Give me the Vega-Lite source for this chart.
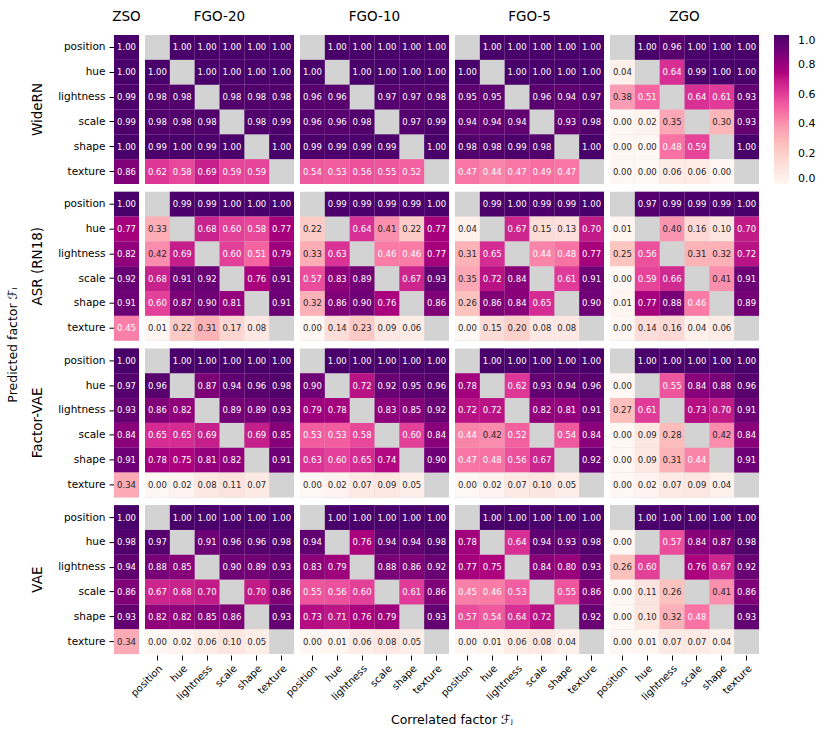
{
"$schema": "https://vega.github.io/schema/vega-lite/v6.json",
"padding": {"left": 6, "top": 9, "right": 5, "bottom": 5},
"data": {"values": [
{"m":"WideRN","g":"ZSO","r":"position","c":"ZSO","v":1.00},
{"m":"WideRN","g":"ZSO","r":"hue","c":"ZSO","v":1.00},
{"m":"WideRN","g":"ZSO","r":"lightness","c":"ZSO","v":0.99},
{"m":"WideRN","g":"ZSO","r":"scale","c":"ZSO","v":0.99},
{"m":"WideRN","g":"ZSO","r":"shape","c":"ZSO","v":1.00},
{"m":"WideRN","g":"ZSO","r":"texture","c":"ZSO","v":0.86},
{"m":"ASR (RN18)","g":"ZSO","r":"position","c":"ZSO","v":1.00},
{"m":"ASR (RN18)","g":"ZSO","r":"hue","c":"ZSO","v":0.77},
{"m":"ASR (RN18)","g":"ZSO","r":"lightness","c":"ZSO","v":0.82},
{"m":"ASR (RN18)","g":"ZSO","r":"scale","c":"ZSO","v":0.92},
{"m":"ASR (RN18)","g":"ZSO","r":"shape","c":"ZSO","v":0.91},
{"m":"ASR (RN18)","g":"ZSO","r":"texture","c":"ZSO","v":0.45},
{"m":"Factor-VAE","g":"ZSO","r":"position","c":"ZSO","v":1.00},
{"m":"Factor-VAE","g":"ZSO","r":"hue","c":"ZSO","v":0.97},
{"m":"Factor-VAE","g":"ZSO","r":"lightness","c":"ZSO","v":0.93},
{"m":"Factor-VAE","g":"ZSO","r":"scale","c":"ZSO","v":0.84},
{"m":"Factor-VAE","g":"ZSO","r":"shape","c":"ZSO","v":0.91},
{"m":"Factor-VAE","g":"ZSO","r":"texture","c":"ZSO","v":0.34},
{"m":"VAE","g":"ZSO","r":"position","c":"ZSO","v":1.00},
{"m":"VAE","g":"ZSO","r":"hue","c":"ZSO","v":0.98},
{"m":"VAE","g":"ZSO","r":"lightness","c":"ZSO","v":0.94},
{"m":"VAE","g":"ZSO","r":"scale","c":"ZSO","v":0.86},
{"m":"VAE","g":"ZSO","r":"shape","c":"ZSO","v":0.93},
{"m":"VAE","g":"ZSO","r":"texture","c":"ZSO","v":0.34},

{"m":"WideRN","g":"FGO-20","r":"position","c":"hue","v":1.00},
{"m":"WideRN","g":"FGO-20","r":"position","c":"lightness","v":1.00},
{"m":"WideRN","g":"FGO-20","r":"position","c":"scale","v":1.00},
{"m":"WideRN","g":"FGO-20","r":"position","c":"shape","v":1.00},
{"m":"WideRN","g":"FGO-20","r":"position","c":"texture","v":1.00},
{"m":"WideRN","g":"FGO-20","r":"hue","c":"position","v":1.00},
{"m":"WideRN","g":"FGO-20","r":"hue","c":"lightness","v":1.00},
{"m":"WideRN","g":"FGO-20","r":"hue","c":"scale","v":1.00},
{"m":"WideRN","g":"FGO-20","r":"hue","c":"shape","v":1.00},
{"m":"WideRN","g":"FGO-20","r":"hue","c":"texture","v":1.00},
{"m":"WideRN","g":"FGO-20","r":"lightness","c":"position","v":0.98},
{"m":"WideRN","g":"FGO-20","r":"lightness","c":"hue","v":0.98},
{"m":"WideRN","g":"FGO-20","r":"lightness","c":"scale","v":0.98},
{"m":"WideRN","g":"FGO-20","r":"lightness","c":"shape","v":0.98},
{"m":"WideRN","g":"FGO-20","r":"lightness","c":"texture","v":0.98},
{"m":"WideRN","g":"FGO-20","r":"scale","c":"position","v":0.98},
{"m":"WideRN","g":"FGO-20","r":"scale","c":"hue","v":0.98},
{"m":"WideRN","g":"FGO-20","r":"scale","c":"lightness","v":0.98},
{"m":"WideRN","g":"FGO-20","r":"scale","c":"shape","v":0.98},
{"m":"WideRN","g":"FGO-20","r":"scale","c":"texture","v":0.99},
{"m":"WideRN","g":"FGO-20","r":"shape","c":"position","v":0.99},
{"m":"WideRN","g":"FGO-20","r":"shape","c":"hue","v":1.00},
{"m":"WideRN","g":"FGO-20","r":"shape","c":"lightness","v":0.99},
{"m":"WideRN","g":"FGO-20","r":"shape","c":"scale","v":1.00},
{"m":"WideRN","g":"FGO-20","r":"shape","c":"texture","v":1.00},
{"m":"WideRN","g":"FGO-20","r":"texture","c":"position","v":0.62},
{"m":"WideRN","g":"FGO-20","r":"texture","c":"hue","v":0.58},
{"m":"WideRN","g":"FGO-20","r":"texture","c":"lightness","v":0.69},
{"m":"WideRN","g":"FGO-20","r":"texture","c":"scale","v":0.59},
{"m":"WideRN","g":"FGO-20","r":"texture","c":"shape","v":0.59},

{"m":"WideRN","g":"FGO-10","r":"position","c":"hue","v":1.00},
{"m":"WideRN","g":"FGO-10","r":"position","c":"lightness","v":1.00},
{"m":"WideRN","g":"FGO-10","r":"position","c":"scale","v":1.00},
{"m":"WideRN","g":"FGO-10","r":"position","c":"shape","v":1.00},
{"m":"WideRN","g":"FGO-10","r":"position","c":"texture","v":1.00},
{"m":"WideRN","g":"FGO-10","r":"hue","c":"position","v":1.00},
{"m":"WideRN","g":"FGO-10","r":"hue","c":"lightness","v":1.00},
{"m":"WideRN","g":"FGO-10","r":"hue","c":"scale","v":1.00},
{"m":"WideRN","g":"FGO-10","r":"hue","c":"shape","v":1.00},
{"m":"WideRN","g":"FGO-10","r":"hue","c":"texture","v":1.00},
{"m":"WideRN","g":"FGO-10","r":"lightness","c":"position","v":0.96},
{"m":"WideRN","g":"FGO-10","r":"lightness","c":"hue","v":0.96},
{"m":"WideRN","g":"FGO-10","r":"lightness","c":"scale","v":0.97},
{"m":"WideRN","g":"FGO-10","r":"lightness","c":"shape","v":0.97},
{"m":"WideRN","g":"FGO-10","r":"lightness","c":"texture","v":0.98},
{"m":"WideRN","g":"FGO-10","r":"scale","c":"position","v":0.96},
{"m":"WideRN","g":"FGO-10","r":"scale","c":"hue","v":0.96},
{"m":"WideRN","g":"FGO-10","r":"scale","c":"lightness","v":0.98},
{"m":"WideRN","g":"FGO-10","r":"scale","c":"shape","v":0.97},
{"m":"WideRN","g":"FGO-10","r":"scale","c":"texture","v":0.99},
{"m":"WideRN","g":"FGO-10","r":"shape","c":"position","v":0.99},
{"m":"WideRN","g":"FGO-10","r":"shape","c":"hue","v":0.99},
{"m":"WideRN","g":"FGO-10","r":"shape","c":"lightness","v":0.99},
{"m":"WideRN","g":"FGO-10","r":"shape","c":"scale","v":0.99},
{"m":"WideRN","g":"FGO-10","r":"shape","c":"texture","v":1.00},
{"m":"WideRN","g":"FGO-10","r":"texture","c":"position","v":0.54},
{"m":"WideRN","g":"FGO-10","r":"texture","c":"hue","v":0.53},
{"m":"WideRN","g":"FGO-10","r":"texture","c":"lightness","v":0.56},
{"m":"WideRN","g":"FGO-10","r":"texture","c":"scale","v":0.55},
{"m":"WideRN","g":"FGO-10","r":"texture","c":"shape","v":0.52},

{"m":"WideRN","g":"FGO-5","r":"position","c":"hue","v":1.00},
{"m":"WideRN","g":"FGO-5","r":"position","c":"lightness","v":1.00},
{"m":"WideRN","g":"FGO-5","r":"position","c":"scale","v":1.00},
{"m":"WideRN","g":"FGO-5","r":"position","c":"shape","v":1.00},
{"m":"WideRN","g":"FGO-5","r":"position","c":"texture","v":1.00},
{"m":"WideRN","g":"FGO-5","r":"hue","c":"position","v":1.00},
{"m":"WideRN","g":"FGO-5","r":"hue","c":"lightness","v":1.00},
{"m":"WideRN","g":"FGO-5","r":"hue","c":"scale","v":1.00},
{"m":"WideRN","g":"FGO-5","r":"hue","c":"shape","v":1.00},
{"m":"WideRN","g":"FGO-5","r":"hue","c":"texture","v":1.00},
{"m":"WideRN","g":"FGO-5","r":"lightness","c":"position","v":0.95},
{"m":"WideRN","g":"FGO-5","r":"lightness","c":"hue","v":0.95},
{"m":"WideRN","g":"FGO-5","r":"lightness","c":"scale","v":0.96},
{"m":"WideRN","g":"FGO-5","r":"lightness","c":"shape","v":0.94},
{"m":"WideRN","g":"FGO-5","r":"lightness","c":"texture","v":0.97},
{"m":"WideRN","g":"FGO-5","r":"scale","c":"position","v":0.94},
{"m":"WideRN","g":"FGO-5","r":"scale","c":"hue","v":0.94},
{"m":"WideRN","g":"FGO-5","r":"scale","c":"lightness","v":0.94},
{"m":"WideRN","g":"FGO-5","r":"scale","c":"shape","v":0.93},
{"m":"WideRN","g":"FGO-5","r":"scale","c":"texture","v":0.98},
{"m":"WideRN","g":"FGO-5","r":"shape","c":"position","v":0.98},
{"m":"WideRN","g":"FGO-5","r":"shape","c":"hue","v":0.98},
{"m":"WideRN","g":"FGO-5","r":"shape","c":"lightness","v":0.99},
{"m":"WideRN","g":"FGO-5","r":"shape","c":"scale","v":0.98},
{"m":"WideRN","g":"FGO-5","r":"shape","c":"texture","v":1.00},
{"m":"WideRN","g":"FGO-5","r":"texture","c":"position","v":0.47},
{"m":"WideRN","g":"FGO-5","r":"texture","c":"hue","v":0.44},
{"m":"WideRN","g":"FGO-5","r":"texture","c":"lightness","v":0.47},
{"m":"WideRN","g":"FGO-5","r":"texture","c":"scale","v":0.49},
{"m":"WideRN","g":"FGO-5","r":"texture","c":"shape","v":0.47},

{"m":"WideRN","g":"ZGO","r":"position","c":"hue","v":1.00},
{"m":"WideRN","g":"ZGO","r":"position","c":"lightness","v":0.96},
{"m":"WideRN","g":"ZGO","r":"position","c":"scale","v":1.00},
{"m":"WideRN","g":"ZGO","r":"position","c":"shape","v":1.00},
{"m":"WideRN","g":"ZGO","r":"position","c":"texture","v":1.00},
{"m":"WideRN","g":"ZGO","r":"hue","c":"position","v":0.04},
{"m":"WideRN","g":"ZGO","r":"hue","c":"lightness","v":0.64},
{"m":"WideRN","g":"ZGO","r":"hue","c":"scale","v":0.99},
{"m":"WideRN","g":"ZGO","r":"hue","c":"shape","v":1.00},
{"m":"WideRN","g":"ZGO","r":"hue","c":"texture","v":1.00},
{"m":"WideRN","g":"ZGO","r":"lightness","c":"position","v":0.38},
{"m":"WideRN","g":"ZGO","r":"lightness","c":"hue","v":0.51},
{"m":"WideRN","g":"ZGO","r":"lightness","c":"scale","v":0.64},
{"m":"WideRN","g":"ZGO","r":"lightness","c":"shape","v":0.61},
{"m":"WideRN","g":"ZGO","r":"lightness","c":"texture","v":0.93},
{"m":"WideRN","g":"ZGO","r":"scale","c":"position","v":0.00},
{"m":"WideRN","g":"ZGO","r":"scale","c":"hue","v":0.02},
{"m":"WideRN","g":"ZGO","r":"scale","c":"lightness","v":0.35},
{"m":"WideRN","g":"ZGO","r":"scale","c":"shape","v":0.30},
{"m":"WideRN","g":"ZGO","r":"scale","c":"texture","v":0.93},
{"m":"WideRN","g":"ZGO","r":"shape","c":"position","v":0.00},
{"m":"WideRN","g":"ZGO","r":"shape","c":"hue","v":0.00},
{"m":"WideRN","g":"ZGO","r":"shape","c":"lightness","v":0.48},
{"m":"WideRN","g":"ZGO","r":"shape","c":"scale","v":0.59},
{"m":"WideRN","g":"ZGO","r":"shape","c":"texture","v":1.00},
{"m":"WideRN","g":"ZGO","r":"texture","c":"position","v":0.00},
{"m":"WideRN","g":"ZGO","r":"texture","c":"hue","v":0.00},
{"m":"WideRN","g":"ZGO","r":"texture","c":"lightness","v":0.06},
{"m":"WideRN","g":"ZGO","r":"texture","c":"scale","v":0.06},
{"m":"WideRN","g":"ZGO","r":"texture","c":"shape","v":0.00},

{"m":"ASR (RN18)","g":"FGO-20","r":"position","c":"hue","v":0.99},
{"m":"ASR (RN18)","g":"FGO-20","r":"position","c":"lightness","v":0.99},
{"m":"ASR (RN18)","g":"FGO-20","r":"position","c":"scale","v":1.00},
{"m":"ASR (RN18)","g":"FGO-20","r":"position","c":"shape","v":1.00},
{"m":"ASR (RN18)","g":"FGO-20","r":"position","c":"texture","v":1.00},
{"m":"ASR (RN18)","g":"FGO-20","r":"hue","c":"position","v":0.33},
{"m":"ASR (RN18)","g":"FGO-20","r":"hue","c":"lightness","v":0.68},
{"m":"ASR (RN18)","g":"FGO-20","r":"hue","c":"scale","v":0.60},
{"m":"ASR (RN18)","g":"FGO-20","r":"hue","c":"shape","v":0.58},
{"m":"ASR (RN18)","g":"FGO-20","r":"hue","c":"texture","v":0.77},
{"m":"ASR (RN18)","g":"FGO-20","r":"lightness","c":"position","v":0.42},
{"m":"ASR (RN18)","g":"FGO-20","r":"lightness","c":"hue","v":0.69},
{"m":"ASR (RN18)","g":"FGO-20","r":"lightness","c":"scale","v":0.60},
{"m":"ASR (RN18)","g":"FGO-20","r":"lightness","c":"shape","v":0.51},
{"m":"ASR (RN18)","g":"FGO-20","r":"lightness","c":"texture","v":0.79},
{"m":"ASR (RN18)","g":"FGO-20","r":"scale","c":"position","v":0.68},
{"m":"ASR (RN18)","g":"FGO-20","r":"scale","c":"hue","v":0.91},
{"m":"ASR (RN18)","g":"FGO-20","r":"scale","c":"lightness","v":0.92},
{"m":"ASR (RN18)","g":"FGO-20","r":"scale","c":"shape","v":0.76},
{"m":"ASR (RN18)","g":"FGO-20","r":"scale","c":"texture","v":0.91},
{"m":"ASR (RN18)","g":"FGO-20","r":"shape","c":"position","v":0.60},
{"m":"ASR (RN18)","g":"FGO-20","r":"shape","c":"hue","v":0.87},
{"m":"ASR (RN18)","g":"FGO-20","r":"shape","c":"lightness","v":0.90},
{"m":"ASR (RN18)","g":"FGO-20","r":"shape","c":"scale","v":0.81},
{"m":"ASR (RN18)","g":"FGO-20","r":"shape","c":"texture","v":0.91},
{"m":"ASR (RN18)","g":"FGO-20","r":"texture","c":"position","v":0.01},
{"m":"ASR (RN18)","g":"FGO-20","r":"texture","c":"hue","v":0.22},
{"m":"ASR (RN18)","g":"FGO-20","r":"texture","c":"lightness","v":0.31},
{"m":"ASR (RN18)","g":"FGO-20","r":"texture","c":"scale","v":0.17},
{"m":"ASR (RN18)","g":"FGO-20","r":"texture","c":"shape","v":0.08},

{"m":"ASR (RN18)","g":"FGO-10","r":"position","c":"hue","v":0.99},
{"m":"ASR (RN18)","g":"FGO-10","r":"position","c":"lightness","v":0.99},
{"m":"ASR (RN18)","g":"FGO-10","r":"position","c":"scale","v":0.99},
{"m":"ASR (RN18)","g":"FGO-10","r":"position","c":"shape","v":0.99},
{"m":"ASR (RN18)","g":"FGO-10","r":"position","c":"texture","v":1.00},
{"m":"ASR (RN18)","g":"FGO-10","r":"hue","c":"position","v":0.22},
{"m":"ASR (RN18)","g":"FGO-10","r":"hue","c":"lightness","v":0.64},
{"m":"ASR (RN18)","g":"FGO-10","r":"hue","c":"scale","v":0.41},
{"m":"ASR (RN18)","g":"FGO-10","r":"hue","c":"shape","v":0.22},
{"m":"ASR (RN18)","g":"FGO-10","r":"hue","c":"texture","v":0.77},
{"m":"ASR (RN18)","g":"FGO-10","r":"lightness","c":"position","v":0.33},
{"m":"ASR (RN18)","g":"FGO-10","r":"lightness","c":"hue","v":0.63},
{"m":"ASR (RN18)","g":"FGO-10","r":"lightness","c":"scale","v":0.46},
{"m":"ASR (RN18)","g":"FGO-10","r":"lightness","c":"shape","v":0.46},
{"m":"ASR (RN18)","g":"FGO-10","r":"lightness","c":"texture","v":0.77},
{"m":"ASR (RN18)","g":"FGO-10","r":"scale","c":"position","v":0.57},
{"m":"ASR (RN18)","g":"FGO-10","r":"scale","c":"hue","v":0.83},
{"m":"ASR (RN18)","g":"FGO-10","r":"scale","c":"lightness","v":0.89},
{"m":"ASR (RN18)","g":"FGO-10","r":"scale","c":"shape","v":0.67},
{"m":"ASR (RN18)","g":"FGO-10","r":"scale","c":"texture","v":0.93},
{"m":"ASR (RN18)","g":"FGO-10","r":"shape","c":"position","v":0.32},
{"m":"ASR (RN18)","g":"FGO-10","r":"shape","c":"hue","v":0.86},
{"m":"ASR (RN18)","g":"FGO-10","r":"shape","c":"lightness","v":0.90},
{"m":"ASR (RN18)","g":"FGO-10","r":"shape","c":"scale","v":0.76},
{"m":"ASR (RN18)","g":"FGO-10","r":"shape","c":"texture","v":0.86},
{"m":"ASR (RN18)","g":"FGO-10","r":"texture","c":"position","v":0.00},
{"m":"ASR (RN18)","g":"FGO-10","r":"texture","c":"hue","v":0.14},
{"m":"ASR (RN18)","g":"FGO-10","r":"texture","c":"lightness","v":0.23},
{"m":"ASR (RN18)","g":"FGO-10","r":"texture","c":"scale","v":0.09},
{"m":"ASR (RN18)","g":"FGO-10","r":"texture","c":"shape","v":0.06},

{"m":"ASR (RN18)","g":"FGO-5","r":"position","c":"hue","v":0.99},
{"m":"ASR (RN18)","g":"FGO-5","r":"position","c":"lightness","v":1.00},
{"m":"ASR (RN18)","g":"FGO-5","r":"position","c":"scale","v":0.99},
{"m":"ASR (RN18)","g":"FGO-5","r":"position","c":"shape","v":0.99},
{"m":"ASR (RN18)","g":"FGO-5","r":"position","c":"texture","v":1.00},
{"m":"ASR (RN18)","g":"FGO-5","r":"hue","c":"position","v":0.04},
{"m":"ASR (RN18)","g":"FGO-5","r":"hue","c":"lightness","v":0.67},
{"m":"ASR (RN18)","g":"FGO-5","r":"hue","c":"scale","v":0.15},
{"m":"ASR (RN18)","g":"FGO-5","r":"hue","c":"shape","v":0.13},
{"m":"ASR (RN18)","g":"FGO-5","r":"hue","c":"texture","v":0.70},
{"m":"ASR (RN18)","g":"FGO-5","r":"lightness","c":"position","v":0.31},
{"m":"ASR (RN18)","g":"FGO-5","r":"lightness","c":"hue","v":0.65},
{"m":"ASR (RN18)","g":"FGO-5","r":"lightness","c":"scale","v":0.44},
{"m":"ASR (RN18)","g":"FGO-5","r":"lightness","c":"shape","v":0.48},
{"m":"ASR (RN18)","g":"FGO-5","r":"lightness","c":"texture","v":0.77},
{"m":"ASR (RN18)","g":"FGO-5","r":"scale","c":"position","v":0.35},
{"m":"ASR (RN18)","g":"FGO-5","r":"scale","c":"hue","v":0.72},
{"m":"ASR (RN18)","g":"FGO-5","r":"scale","c":"lightness","v":0.84},
{"m":"ASR (RN18)","g":"FGO-5","r":"scale","c":"shape","v":0.61},
{"m":"ASR (RN18)","g":"FGO-5","r":"scale","c":"texture","v":0.91},
{"m":"ASR (RN18)","g":"FGO-5","r":"shape","c":"position","v":0.26},
{"m":"ASR (RN18)","g":"FGO-5","r":"shape","c":"hue","v":0.86},
{"m":"ASR (RN18)","g":"FGO-5","r":"shape","c":"lightness","v":0.84},
{"m":"ASR (RN18)","g":"FGO-5","r":"shape","c":"scale","v":0.65},
{"m":"ASR (RN18)","g":"FGO-5","r":"shape","c":"texture","v":0.90},
{"m":"ASR (RN18)","g":"FGO-5","r":"texture","c":"position","v":0.00},
{"m":"ASR (RN18)","g":"FGO-5","r":"texture","c":"hue","v":0.15},
{"m":"ASR (RN18)","g":"FGO-5","r":"texture","c":"lightness","v":0.20},
{"m":"ASR (RN18)","g":"FGO-5","r":"texture","c":"scale","v":0.08},
{"m":"ASR (RN18)","g":"FGO-5","r":"texture","c":"shape","v":0.08},

{"m":"ASR (RN18)","g":"ZGO","r":"position","c":"hue","v":0.97},
{"m":"ASR (RN18)","g":"ZGO","r":"position","c":"lightness","v":0.99},
{"m":"ASR (RN18)","g":"ZGO","r":"position","c":"scale","v":0.99},
{"m":"ASR (RN18)","g":"ZGO","r":"position","c":"shape","v":0.99},
{"m":"ASR (RN18)","g":"ZGO","r":"position","c":"texture","v":1.00},
{"m":"ASR (RN18)","g":"ZGO","r":"hue","c":"position","v":0.01},
{"m":"ASR (RN18)","g":"ZGO","r":"hue","c":"lightness","v":0.40},
{"m":"ASR (RN18)","g":"ZGO","r":"hue","c":"scale","v":0.16},
{"m":"ASR (RN18)","g":"ZGO","r":"hue","c":"shape","v":0.10},
{"m":"ASR (RN18)","g":"ZGO","r":"hue","c":"texture","v":0.70},
{"m":"ASR (RN18)","g":"ZGO","r":"lightness","c":"position","v":0.25},
{"m":"ASR (RN18)","g":"ZGO","r":"lightness","c":"hue","v":0.56},
{"m":"ASR (RN18)","g":"ZGO","r":"lightness","c":"scale","v":0.31},
{"m":"ASR (RN18)","g":"ZGO","r":"lightness","c":"shape","v":0.32},
{"m":"ASR (RN18)","g":"ZGO","r":"lightness","c":"texture","v":0.72},
{"m":"ASR (RN18)","g":"ZGO","r":"scale","c":"position","v":0.00},
{"m":"ASR (RN18)","g":"ZGO","r":"scale","c":"hue","v":0.59},
{"m":"ASR (RN18)","g":"ZGO","r":"scale","c":"lightness","v":0.66},
{"m":"ASR (RN18)","g":"ZGO","r":"scale","c":"shape","v":0.41},
{"m":"ASR (RN18)","g":"ZGO","r":"scale","c":"texture","v":0.91},
{"m":"ASR (RN18)","g":"ZGO","r":"shape","c":"position","v":0.01},
{"m":"ASR (RN18)","g":"ZGO","r":"shape","c":"hue","v":0.77},
{"m":"ASR (RN18)","g":"ZGO","r":"shape","c":"lightness","v":0.88},
{"m":"ASR (RN18)","g":"ZGO","r":"shape","c":"scale","v":0.46},
{"m":"ASR (RN18)","g":"ZGO","r":"shape","c":"texture","v":0.89},
{"m":"ASR (RN18)","g":"ZGO","r":"texture","c":"position","v":0.00},
{"m":"ASR (RN18)","g":"ZGO","r":"texture","c":"hue","v":0.14},
{"m":"ASR (RN18)","g":"ZGO","r":"texture","c":"lightness","v":0.16},
{"m":"ASR (RN18)","g":"ZGO","r":"texture","c":"scale","v":0.04},
{"m":"ASR (RN18)","g":"ZGO","r":"texture","c":"shape","v":0.06},

{"m":"Factor-VAE","g":"FGO-20","r":"position","c":"hue","v":1.00},
{"m":"Factor-VAE","g":"FGO-20","r":"position","c":"lightness","v":1.00},
{"m":"Factor-VAE","g":"FGO-20","r":"position","c":"scale","v":1.00},
{"m":"Factor-VAE","g":"FGO-20","r":"position","c":"shape","v":1.00},
{"m":"Factor-VAE","g":"FGO-20","r":"position","c":"texture","v":1.00},
{"m":"Factor-VAE","g":"FGO-20","r":"hue","c":"position","v":0.96},
{"m":"Factor-VAE","g":"FGO-20","r":"hue","c":"lightness","v":0.87},
{"m":"Factor-VAE","g":"FGO-20","r":"hue","c":"scale","v":0.94},
{"m":"Factor-VAE","g":"FGO-20","r":"hue","c":"shape","v":0.96},
{"m":"Factor-VAE","g":"FGO-20","r":"hue","c":"texture","v":0.98},
{"m":"Factor-VAE","g":"FGO-20","r":"lightness","c":"position","v":0.86},
{"m":"Factor-VAE","g":"FGO-20","r":"lightness","c":"hue","v":0.82},
{"m":"Factor-VAE","g":"FGO-20","r":"lightness","c":"scale","v":0.89},
{"m":"Factor-VAE","g":"FGO-20","r":"lightness","c":"shape","v":0.89},
{"m":"Factor-VAE","g":"FGO-20","r":"lightness","c":"texture","v":0.93},
{"m":"Factor-VAE","g":"FGO-20","r":"scale","c":"position","v":0.65},
{"m":"Factor-VAE","g":"FGO-20","r":"scale","c":"hue","v":0.65},
{"m":"Factor-VAE","g":"FGO-20","r":"scale","c":"lightness","v":0.69},
{"m":"Factor-VAE","g":"FGO-20","r":"scale","c":"shape","v":0.69},
{"m":"Factor-VAE","g":"FGO-20","r":"scale","c":"texture","v":0.85},
{"m":"Factor-VAE","g":"FGO-20","r":"shape","c":"position","v":0.78},
{"m":"Factor-VAE","g":"FGO-20","r":"shape","c":"hue","v":0.75},
{"m":"Factor-VAE","g":"FGO-20","r":"shape","c":"lightness","v":0.81},
{"m":"Factor-VAE","g":"FGO-20","r":"shape","c":"scale","v":0.82},
{"m":"Factor-VAE","g":"FGO-20","r":"shape","c":"texture","v":0.91},
{"m":"Factor-VAE","g":"FGO-20","r":"texture","c":"position","v":0.00},
{"m":"Factor-VAE","g":"FGO-20","r":"texture","c":"hue","v":0.02},
{"m":"Factor-VAE","g":"FGO-20","r":"texture","c":"lightness","v":0.08},
{"m":"Factor-VAE","g":"FGO-20","r":"texture","c":"scale","v":0.11},
{"m":"Factor-VAE","g":"FGO-20","r":"texture","c":"shape","v":0.07},

{"m":"Factor-VAE","g":"FGO-10","r":"position","c":"hue","v":1.00},
{"m":"Factor-VAE","g":"FGO-10","r":"position","c":"lightness","v":1.00},
{"m":"Factor-VAE","g":"FGO-10","r":"position","c":"scale","v":1.00},
{"m":"Factor-VAE","g":"FGO-10","r":"position","c":"shape","v":1.00},
{"m":"Factor-VAE","g":"FGO-10","r":"position","c":"texture","v":1.00},
{"m":"Factor-VAE","g":"FGO-10","r":"hue","c":"position","v":0.90},
{"m":"Factor-VAE","g":"FGO-10","r":"hue","c":"lightness","v":0.72},
{"m":"Factor-VAE","g":"FGO-10","r":"hue","c":"scale","v":0.92},
{"m":"Factor-VAE","g":"FGO-10","r":"hue","c":"shape","v":0.95},
{"m":"Factor-VAE","g":"FGO-10","r":"hue","c":"texture","v":0.96},
{"m":"Factor-VAE","g":"FGO-10","r":"lightness","c":"position","v":0.79},
{"m":"Factor-VAE","g":"FGO-10","r":"lightness","c":"hue","v":0.78},
{"m":"Factor-VAE","g":"FGO-10","r":"lightness","c":"scale","v":0.83},
{"m":"Factor-VAE","g":"FGO-10","r":"lightness","c":"shape","v":0.85},
{"m":"Factor-VAE","g":"FGO-10","r":"lightness","c":"texture","v":0.92},
{"m":"Factor-VAE","g":"FGO-10","r":"scale","c":"position","v":0.53},
{"m":"Factor-VAE","g":"FGO-10","r":"scale","c":"hue","v":0.53},
{"m":"Factor-VAE","g":"FGO-10","r":"scale","c":"lightness","v":0.58},
{"m":"Factor-VAE","g":"FGO-10","r":"scale","c":"shape","v":0.60},
{"m":"Factor-VAE","g":"FGO-10","r":"scale","c":"texture","v":0.84},
{"m":"Factor-VAE","g":"FGO-10","r":"shape","c":"position","v":0.63},
{"m":"Factor-VAE","g":"FGO-10","r":"shape","c":"hue","v":0.60},
{"m":"Factor-VAE","g":"FGO-10","r":"shape","c":"lightness","v":0.65},
{"m":"Factor-VAE","g":"FGO-10","r":"shape","c":"scale","v":0.74},
{"m":"Factor-VAE","g":"FGO-10","r":"shape","c":"texture","v":0.90},
{"m":"Factor-VAE","g":"FGO-10","r":"texture","c":"position","v":0.00},
{"m":"Factor-VAE","g":"FGO-10","r":"texture","c":"hue","v":0.02},
{"m":"Factor-VAE","g":"FGO-10","r":"texture","c":"lightness","v":0.07},
{"m":"Factor-VAE","g":"FGO-10","r":"texture","c":"scale","v":0.09},
{"m":"Factor-VAE","g":"FGO-10","r":"texture","c":"shape","v":0.05},

{"m":"Factor-VAE","g":"FGO-5","r":"position","c":"hue","v":1.00},
{"m":"Factor-VAE","g":"FGO-5","r":"position","c":"lightness","v":1.00},
{"m":"Factor-VAE","g":"FGO-5","r":"position","c":"scale","v":1.00},
{"m":"Factor-VAE","g":"FGO-5","r":"position","c":"shape","v":1.00},
{"m":"Factor-VAE","g":"FGO-5","r":"position","c":"texture","v":1.00},
{"m":"Factor-VAE","g":"FGO-5","r":"hue","c":"position","v":0.78},
{"m":"Factor-VAE","g":"FGO-5","r":"hue","c":"lightness","v":0.62},
{"m":"Factor-VAE","g":"FGO-5","r":"hue","c":"scale","v":0.93},
{"m":"Factor-VAE","g":"FGO-5","r":"hue","c":"shape","v":0.94},
{"m":"Factor-VAE","g":"FGO-5","r":"hue","c":"texture","v":0.96},
{"m":"Factor-VAE","g":"FGO-5","r":"lightness","c":"position","v":0.72},
{"m":"Factor-VAE","g":"FGO-5","r":"lightness","c":"hue","v":0.72},
{"m":"Factor-VAE","g":"FGO-5","r":"lightness","c":"scale","v":0.82},
{"m":"Factor-VAE","g":"FGO-5","r":"lightness","c":"shape","v":0.81},
{"m":"Factor-VAE","g":"FGO-5","r":"lightness","c":"texture","v":0.91},
{"m":"Factor-VAE","g":"FGO-5","r":"scale","c":"position","v":0.44},
{"m":"Factor-VAE","g":"FGO-5","r":"scale","c":"hue","v":0.42},
{"m":"Factor-VAE","g":"FGO-5","r":"scale","c":"lightness","v":0.52},
{"m":"Factor-VAE","g":"FGO-5","r":"scale","c":"shape","v":0.54},
{"m":"Factor-VAE","g":"FGO-5","r":"scale","c":"texture","v":0.84},
{"m":"Factor-VAE","g":"FGO-5","r":"shape","c":"position","v":0.47},
{"m":"Factor-VAE","g":"FGO-5","r":"shape","c":"hue","v":0.48},
{"m":"Factor-VAE","g":"FGO-5","r":"shape","c":"lightness","v":0.56},
{"m":"Factor-VAE","g":"FGO-5","r":"shape","c":"scale","v":0.67},
{"m":"Factor-VAE","g":"FGO-5","r":"shape","c":"texture","v":0.92},
{"m":"Factor-VAE","g":"FGO-5","r":"texture","c":"position","v":0.00},
{"m":"Factor-VAE","g":"FGO-5","r":"texture","c":"hue","v":0.02},
{"m":"Factor-VAE","g":"FGO-5","r":"texture","c":"lightness","v":0.07},
{"m":"Factor-VAE","g":"FGO-5","r":"texture","c":"scale","v":0.10},
{"m":"Factor-VAE","g":"FGO-5","r":"texture","c":"shape","v":0.05},

{"m":"Factor-VAE","g":"ZGO","r":"position","c":"hue","v":1.00},
{"m":"Factor-VAE","g":"ZGO","r":"position","c":"lightness","v":1.00},
{"m":"Factor-VAE","g":"ZGO","r":"position","c":"scale","v":1.00},
{"m":"Factor-VAE","g":"ZGO","r":"position","c":"shape","v":1.00},
{"m":"Factor-VAE","g":"ZGO","r":"position","c":"texture","v":1.00},
{"m":"Factor-VAE","g":"ZGO","r":"hue","c":"position","v":0.00},
{"m":"Factor-VAE","g":"ZGO","r":"hue","c":"lightness","v":0.55},
{"m":"Factor-VAE","g":"ZGO","r":"hue","c":"scale","v":0.84},
{"m":"Factor-VAE","g":"ZGO","r":"hue","c":"shape","v":0.88},
{"m":"Factor-VAE","g":"ZGO","r":"hue","c":"texture","v":0.96},
{"m":"Factor-VAE","g":"ZGO","r":"lightness","c":"position","v":0.27},
{"m":"Factor-VAE","g":"ZGO","r":"lightness","c":"hue","v":0.61},
{"m":"Factor-VAE","g":"ZGO","r":"lightness","c":"scale","v":0.73},
{"m":"Factor-VAE","g":"ZGO","r":"lightness","c":"shape","v":0.70},
{"m":"Factor-VAE","g":"ZGO","r":"lightness","c":"texture","v":0.91},
{"m":"Factor-VAE","g":"ZGO","r":"scale","c":"position","v":0.00},
{"m":"Factor-VAE","g":"ZGO","r":"scale","c":"hue","v":0.09},
{"m":"Factor-VAE","g":"ZGO","r":"scale","c":"lightness","v":0.28},
{"m":"Factor-VAE","g":"ZGO","r":"scale","c":"shape","v":0.42},
{"m":"Factor-VAE","g":"ZGO","r":"scale","c":"texture","v":0.84},
{"m":"Factor-VAE","g":"ZGO","r":"shape","c":"position","v":0.00},
{"m":"Factor-VAE","g":"ZGO","r":"shape","c":"hue","v":0.09},
{"m":"Factor-VAE","g":"ZGO","r":"shape","c":"lightness","v":0.31},
{"m":"Factor-VAE","g":"ZGO","r":"shape","c":"scale","v":0.44},
{"m":"Factor-VAE","g":"ZGO","r":"shape","c":"texture","v":0.91},
{"m":"Factor-VAE","g":"ZGO","r":"texture","c":"position","v":0.00},
{"m":"Factor-VAE","g":"ZGO","r":"texture","c":"hue","v":0.02},
{"m":"Factor-VAE","g":"ZGO","r":"texture","c":"lightness","v":0.07},
{"m":"Factor-VAE","g":"ZGO","r":"texture","c":"scale","v":0.09},
{"m":"Factor-VAE","g":"ZGO","r":"texture","c":"shape","v":0.04},

{"m":"VAE","g":"FGO-20","r":"position","c":"hue","v":1.00},
{"m":"VAE","g":"FGO-20","r":"position","c":"lightness","v":1.00},
{"m":"VAE","g":"FGO-20","r":"position","c":"scale","v":1.00},
{"m":"VAE","g":"FGO-20","r":"position","c":"shape","v":1.00},
{"m":"VAE","g":"FGO-20","r":"position","c":"texture","v":1.00},
{"m":"VAE","g":"FGO-20","r":"hue","c":"position","v":0.97},
{"m":"VAE","g":"FGO-20","r":"hue","c":"lightness","v":0.91},
{"m":"VAE","g":"FGO-20","r":"hue","c":"scale","v":0.96},
{"m":"VAE","g":"FGO-20","r":"hue","c":"shape","v":0.96},
{"m":"VAE","g":"FGO-20","r":"hue","c":"texture","v":0.98},
{"m":"VAE","g":"FGO-20","r":"lightness","c":"position","v":0.88},
{"m":"VAE","g":"FGO-20","r":"lightness","c":"hue","v":0.85},
{"m":"VAE","g":"FGO-20","r":"lightness","c":"scale","v":0.90},
{"m":"VAE","g":"FGO-20","r":"lightness","c":"shape","v":0.89},
{"m":"VAE","g":"FGO-20","r":"lightness","c":"texture","v":0.93},
{"m":"VAE","g":"FGO-20","r":"scale","c":"position","v":0.67},
{"m":"VAE","g":"FGO-20","r":"scale","c":"hue","v":0.68},
{"m":"VAE","g":"FGO-20","r":"scale","c":"lightness","v":0.70},
{"m":"VAE","g":"FGO-20","r":"scale","c":"shape","v":0.70},
{"m":"VAE","g":"FGO-20","r":"scale","c":"texture","v":0.86},
{"m":"VAE","g":"FGO-20","r":"shape","c":"position","v":0.82},
{"m":"VAE","g":"FGO-20","r":"shape","c":"hue","v":0.82},
{"m":"VAE","g":"FGO-20","r":"shape","c":"lightness","v":0.85},
{"m":"VAE","g":"FGO-20","r":"shape","c":"scale","v":0.86},
{"m":"VAE","g":"FGO-20","r":"shape","c":"texture","v":0.93},
{"m":"VAE","g":"FGO-20","r":"texture","c":"position","v":0.00},
{"m":"VAE","g":"FGO-20","r":"texture","c":"hue","v":0.02},
{"m":"VAE","g":"FGO-20","r":"texture","c":"lightness","v":0.06},
{"m":"VAE","g":"FGO-20","r":"texture","c":"scale","v":0.10},
{"m":"VAE","g":"FGO-20","r":"texture","c":"shape","v":0.05},

{"m":"VAE","g":"FGO-10","r":"position","c":"hue","v":1.00},
{"m":"VAE","g":"FGO-10","r":"position","c":"lightness","v":1.00},
{"m":"VAE","g":"FGO-10","r":"position","c":"scale","v":1.00},
{"m":"VAE","g":"FGO-10","r":"position","c":"shape","v":1.00},
{"m":"VAE","g":"FGO-10","r":"position","c":"texture","v":1.00},
{"m":"VAE","g":"FGO-10","r":"hue","c":"position","v":0.94},
{"m":"VAE","g":"FGO-10","r":"hue","c":"lightness","v":0.76},
{"m":"VAE","g":"FGO-10","r":"hue","c":"scale","v":0.94},
{"m":"VAE","g":"FGO-10","r":"hue","c":"shape","v":0.94},
{"m":"VAE","g":"FGO-10","r":"hue","c":"texture","v":0.98},
{"m":"VAE","g":"FGO-10","r":"lightness","c":"position","v":0.83},
{"m":"VAE","g":"FGO-10","r":"lightness","c":"hue","v":0.79},
{"m":"VAE","g":"FGO-10","r":"lightness","c":"scale","v":0.88},
{"m":"VAE","g":"FGO-10","r":"lightness","c":"shape","v":0.86},
{"m":"VAE","g":"FGO-10","r":"lightness","c":"texture","v":0.92},
{"m":"VAE","g":"FGO-10","r":"scale","c":"position","v":0.55},
{"m":"VAE","g":"FGO-10","r":"scale","c":"hue","v":0.56},
{"m":"VAE","g":"FGO-10","r":"scale","c":"lightness","v":0.60},
{"m":"VAE","g":"FGO-10","r":"scale","c":"shape","v":0.61},
{"m":"VAE","g":"FGO-10","r":"scale","c":"texture","v":0.86},
{"m":"VAE","g":"FGO-10","r":"shape","c":"position","v":0.73},
{"m":"VAE","g":"FGO-10","r":"shape","c":"hue","v":0.71},
{"m":"VAE","g":"FGO-10","r":"shape","c":"lightness","v":0.76},
{"m":"VAE","g":"FGO-10","r":"shape","c":"scale","v":0.79},
{"m":"VAE","g":"FGO-10","r":"shape","c":"texture","v":0.93},
{"m":"VAE","g":"FGO-10","r":"texture","c":"position","v":0.00},
{"m":"VAE","g":"FGO-10","r":"texture","c":"hue","v":0.01},
{"m":"VAE","g":"FGO-10","r":"texture","c":"lightness","v":0.06},
{"m":"VAE","g":"FGO-10","r":"texture","c":"scale","v":0.08},
{"m":"VAE","g":"FGO-10","r":"texture","c":"shape","v":0.05},

{"m":"VAE","g":"FGO-5","r":"position","c":"hue","v":1.00},
{"m":"VAE","g":"FGO-5","r":"position","c":"lightness","v":1.00},
{"m":"VAE","g":"FGO-5","r":"position","c":"scale","v":1.00},
{"m":"VAE","g":"FGO-5","r":"position","c":"shape","v":1.00},
{"m":"VAE","g":"FGO-5","r":"position","c":"texture","v":1.00},
{"m":"VAE","g":"FGO-5","r":"hue","c":"position","v":0.78},
{"m":"VAE","g":"FGO-5","r":"hue","c":"lightness","v":0.64},
{"m":"VAE","g":"FGO-5","r":"hue","c":"scale","v":0.94},
{"m":"VAE","g":"FGO-5","r":"hue","c":"shape","v":0.93},
{"m":"VAE","g":"FGO-5","r":"hue","c":"texture","v":0.98},
{"m":"VAE","g":"FGO-5","r":"lightness","c":"position","v":0.77},
{"m":"VAE","g":"FGO-5","r":"lightness","c":"hue","v":0.75},
{"m":"VAE","g":"FGO-5","r":"lightness","c":"scale","v":0.84},
{"m":"VAE","g":"FGO-5","r":"lightness","c":"shape","v":0.80},
{"m":"VAE","g":"FGO-5","r":"lightness","c":"texture","v":0.93},
{"m":"VAE","g":"FGO-5","r":"scale","c":"position","v":0.45},
{"m":"VAE","g":"FGO-5","r":"scale","c":"hue","v":0.46},
{"m":"VAE","g":"FGO-5","r":"scale","c":"lightness","v":0.53},
{"m":"VAE","g":"FGO-5","r":"scale","c":"shape","v":0.55},
{"m":"VAE","g":"FGO-5","r":"scale","c":"texture","v":0.86},
{"m":"VAE","g":"FGO-5","r":"shape","c":"position","v":0.57},
{"m":"VAE","g":"FGO-5","r":"shape","c":"hue","v":0.54},
{"m":"VAE","g":"FGO-5","r":"shape","c":"lightness","v":0.64},
{"m":"VAE","g":"FGO-5","r":"shape","c":"scale","v":0.72},
{"m":"VAE","g":"FGO-5","r":"shape","c":"texture","v":0.92},
{"m":"VAE","g":"FGO-5","r":"texture","c":"position","v":0.00},
{"m":"VAE","g":"FGO-5","r":"texture","c":"hue","v":0.01},
{"m":"VAE","g":"FGO-5","r":"texture","c":"lightness","v":0.06},
{"m":"VAE","g":"FGO-5","r":"texture","c":"scale","v":0.08},
{"m":"VAE","g":"FGO-5","r":"texture","c":"shape","v":0.04},

{"m":"VAE","g":"ZGO","r":"position","c":"hue","v":1.00},
{"m":"VAE","g":"ZGO","r":"position","c":"lightness","v":1.00},
{"m":"VAE","g":"ZGO","r":"position","c":"scale","v":1.00},
{"m":"VAE","g":"ZGO","r":"position","c":"shape","v":1.00},
{"m":"VAE","g":"ZGO","r":"position","c":"texture","v":1.00},
{"m":"VAE","g":"ZGO","r":"hue","c":"position","v":0.00},
{"m":"VAE","g":"ZGO","r":"hue","c":"lightness","v":0.57},
{"m":"VAE","g":"ZGO","r":"hue","c":"scale","v":0.84},
{"m":"VAE","g":"ZGO","r":"hue","c":"shape","v":0.87},
{"m":"VAE","g":"ZGO","r":"hue","c":"texture","v":0.98},
{"m":"VAE","g":"ZGO","r":"lightness","c":"position","v":0.26},
{"m":"VAE","g":"ZGO","r":"lightness","c":"hue","v":0.60},
{"m":"VAE","g":"ZGO","r":"lightness","c":"scale","v":0.76},
{"m":"VAE","g":"ZGO","r":"lightness","c":"shape","v":0.67},
{"m":"VAE","g":"ZGO","r":"lightness","c":"texture","v":0.92},
{"m":"VAE","g":"ZGO","r":"scale","c":"position","v":0.00},
{"m":"VAE","g":"ZGO","r":"scale","c":"hue","v":0.11},
{"m":"VAE","g":"ZGO","r":"scale","c":"lightness","v":0.26},
{"m":"VAE","g":"ZGO","r":"scale","c":"shape","v":0.41},
{"m":"VAE","g":"ZGO","r":"scale","c":"texture","v":0.86},
{"m":"VAE","g":"ZGO","r":"shape","c":"position","v":0.00},
{"m":"VAE","g":"ZGO","r":"shape","c":"hue","v":0.10},
{"m":"VAE","g":"ZGO","r":"shape","c":"lightness","v":0.32},
{"m":"VAE","g":"ZGO","r":"shape","c":"scale","v":0.48},
{"m":"VAE","g":"ZGO","r":"shape","c":"texture","v":0.93},
{"m":"VAE","g":"ZGO","r":"texture","c":"position","v":0.00},
{"m":"VAE","g":"ZGO","r":"texture","c":"hue","v":0.01},
{"m":"VAE","g":"ZGO","r":"texture","c":"lightness","v":0.07},
{"m":"VAE","g":"ZGO","r":"texture","c":"scale","v":0.07},
{"m":"VAE","g":"ZGO","r":"texture","c":"shape","v":0.04}
]},
"config": {
  "font": "DejaVu Sans",
  "view": {"fill": "#d3d3d3", "stroke": null},
  "axis": {"domain": false, "tickColor": "#000000", "tickSize": 5, "labelColor": "#000000", "labelFontSize": 10.5, "labelPadding": 4},
  "header": {"labelFontSize": 13.5, "labelColor": "#000000", "titleColor": "#000000", "titleFontWeight": "normal"}
},
"spacing": -13,
"hconcat": [
  {
    "transform": [{"filter": "datum.g === 'ZSO'"}],
    "facet": {
      "row": {"field": "m", "type": "nominal", "sort": ["WideRN", "ASR (RN18)", "Factor-VAE", "VAE"],
              "header": {"title": "Predicted factor ℱᵢ", "titleOrient": "left", "labelOrient": "left", "labelAngle": -90, "titleFontSize": 12.5, "labelPadding": 6, "titlePadding": 2}},
      "column": {"field": "g", "type": "nominal", "header": {"title": null, "labelPadding": 12}}
    },
    "spacing": {"row": 7.7, "column": 6},
    "spec": {
      "width": 25,
      "height": 149,
      "encoding": {
        "x": {"field": "c", "type": "nominal", "axis": null},
        "y": {"field": "r", "type": "nominal", "sort": ["position", "hue", "lightness", "scale", "shape", "texture"], "axis": {"title": null}}
      },
      "layer": [
        {"mark": {"type": "rect"}, "encoding": {"color": {"field": "v", "type": "quantitative",
          "scale": {"type": "linear", "domain": [0, 0.125, 0.25, 0.375, 0.5, 0.625, 0.75, 0.875, 1], "range": ["#fff7f3", "#fde0dd", "#fcc5c0", "#fa9fb5", "#f768a1", "#dd3497", "#ae017e", "#7a0177", "#49006a"]},
          "legend": {"title": null, "gradientLength": 149, "gradientThickness": 15, "values": [0, 0.2, 0.4, 0.6, 0.8, 1.0], "format": ".1f", "labelFontSize": 11, "labelColor": "#000000", "labelOffset": 9, "offset": 15}}}},
        {"mark": {"type": "text", "fontSize": 8.5}, "encoding": {"text": {"field": "v", "type": "quantitative", "format": ".2f"}, "color": {"condition": {"test": "datum.v >= 0.43", "value": "#ffffff"}, "value": "#262626"}}}
      ]
    }
  },
  {
    "transform": [{"filter": "datum.g !== 'ZSO'"}],
    "facet": {
      "row": {"field": "m", "type": "nominal", "sort": ["WideRN", "ASR (RN18)", "Factor-VAE", "VAE"], "header": null},
      "column": {"field": "g", "type": "nominal", "sort": ["FGO-20", "FGO-10", "FGO-5", "ZGO"],
                 "header": {"title": "Correlated factor ℱⱼ", "titleOrient": "bottom", "labelOrient": "top", "titleFontSize": 12.5, "labelPadding": 12, "titlePadding": 2}}
    },
    "spacing": {"row": 7.7, "column": 6},
    "spec": {
      "width": 149,
      "height": 149,
      "encoding": {
        "x": {"field": "c", "type": "nominal", "sort": ["position", "hue", "lightness", "scale", "shape", "texture"], "axis": {"title": null, "labelAngle": -45, "labelPadding": 3, "labelFontSize": 10}},
        "y": {"field": "r", "type": "nominal", "sort": ["position", "hue", "lightness", "scale", "shape", "texture"], "axis": null}
      },
      "layer": [
        {"mark": {"type": "rect"}, "encoding": {"color": {"field": "v", "type": "quantitative",
          "scale": {"type": "linear", "domain": [0, 0.125, 0.25, 0.375, 0.5, 0.625, 0.75, 0.875, 1], "range": ["#fff7f3", "#fde0dd", "#fcc5c0", "#fa9fb5", "#f768a1", "#dd3497", "#ae017e", "#7a0177", "#49006a"]}}}},
        {"mark": {"type": "text", "fontSize": 8.5}, "encoding": {"text": {"field": "v", "type": "quantitative", "format": ".2f"}, "color": {"condition": {"test": "datum.v >= 0.43", "value": "#ffffff"}, "value": "#262626"}}}
      ]
    }
  }
]
}
